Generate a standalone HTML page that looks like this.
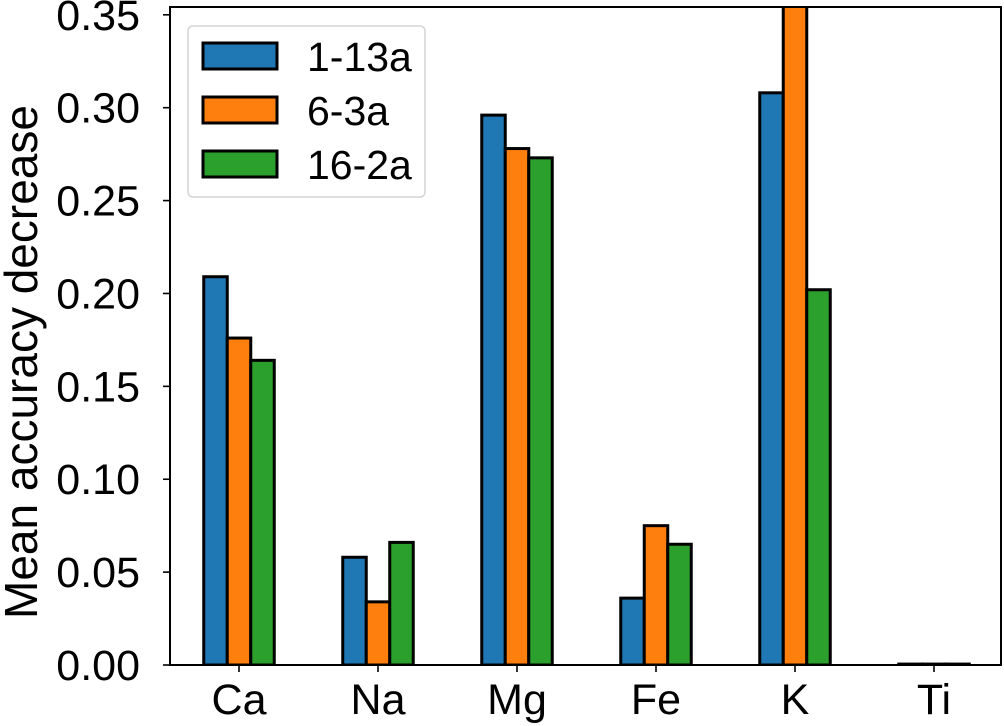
<!DOCTYPE html>
<html><head><meta charset="utf-8"><style>
html,body{margin:0;padding:0;background:#fff;}
svg{display:block;font-family:"Liberation Sans",Arial,sans-serif;}
</style></head><body>
<svg id="chart" width="1004" height="726" viewBox="0 0 1004 726"></svg>
<script>
const categories = ["Ca","Na","Mg","Fe","K","Ti"];
const seriesNames = ["1-13a","6-3a","16-2a"];
const seriesColors = ["#1f77b4","#ff7f0e","#2ca02c"];
const values1_13a = [0.209,0.058,0.296,0.036,0.308,0.0005];
const values6_3a = [0.176,0.034,0.278,0.075,0.355,0.0005];
const values16_2a = [0.164,0.066,0.273,0.065,0.202,0.0005];
const yTicks = [0,0.05,0.10,0.15,0.20,0.25,0.30,0.35];
const yTickLabels = ["0.00","0.05","0.10","0.15","0.20","0.25","0.30","0.35"];

const NS="http://www.w3.org/2000/svg";
const svg=document.getElementById('chart');
const L=170,R=1001,T=7,B=665,yMax=0.3542;
const y=v=>B-(v/yMax)*(B-T);
const x0=239,step=139,bw=23.5;
const x=i=>x0+i*step;
function mk(tag,attrs){const e=document.createElementNS(NS,tag);for(const k in attrs)e.setAttribute(k,attrs[k]);svg.appendChild(e);return e;}

const clip=mk('clipPath',{id:'plotclip'});


const cr=document.createElementNS(NS,'rect');
cr.setAttribute('x',L);cr.setAttribute('y',T);cr.setAttribute('width',R-L);cr.setAttribute('height',B-T);
clip.appendChild(cr);

const series=[values1_13a,values6_3a,values16_2a];
series.forEach((vals,s)=>{
  vals.forEach((v,i)=>{
    const cx=x(i)+(s-1)*bw;
    const r=mk('rect',{x:cx-bw/2,y:y(v),width:bw,height:B-y(v),fill:seriesColors[s],stroke:'#000','stroke-width':3,'clip-path':'url(#plotclip)'});
    
    
  });
});

const frame=mk('rect',{x:L,y:T,width:R-L,height:B-T,fill:'none',stroke:'#000','stroke-width':2});



yTicks.forEach((t,i)=>{
  const ln=mk('line',{x1:L-7,x2:L,y1:y(t),y2:y(t),stroke:'#000','stroke-width':1.6});
  
  
  const tx=mk('text',{x:140,y:y(t)+15,'text-anchor':'end','font-size':43,fill:'#000'});
  tx.textContent=yTickLabels[i];
  
  
});
categories.forEach((c,i)=>{
  const ln=mk('line',{x1:x(i),x2:x(i),y1:B,y2:B+7,stroke:'#000','stroke-width':1.6});
  
  
  const tx=mk('text',{x:x(i),y:714,'text-anchor':'middle','font-size':43,fill:'#000'});
  tx.textContent=c;
  
  
});
const yl=mk('text',{x:0,y:0,transform:'translate(37,362) rotate(-90)','text-anchor':'middle','font-size':46,fill:'#000'});
yl.textContent='Mean accuracy decrease';



const lg=mk('rect',{x:188,y:26,width:237,height:171,rx:5,fill:'#fff',stroke:'#d0d0d0','stroke-width':1.5,opacity:0.9});


seriesNames.forEach((n,s)=>{
  const cy=56+s*54;
  const p=mk('rect',{x:203,y:cy-13,width:74,height:26,fill:seriesColors[s],stroke:'#000','stroke-width':3});
  
  
  const t=mk('text',{x:307,y:cy+15,'font-size':41,fill:'#000'});
  t.textContent=n;
  
  
});
</script>
</body></html>
